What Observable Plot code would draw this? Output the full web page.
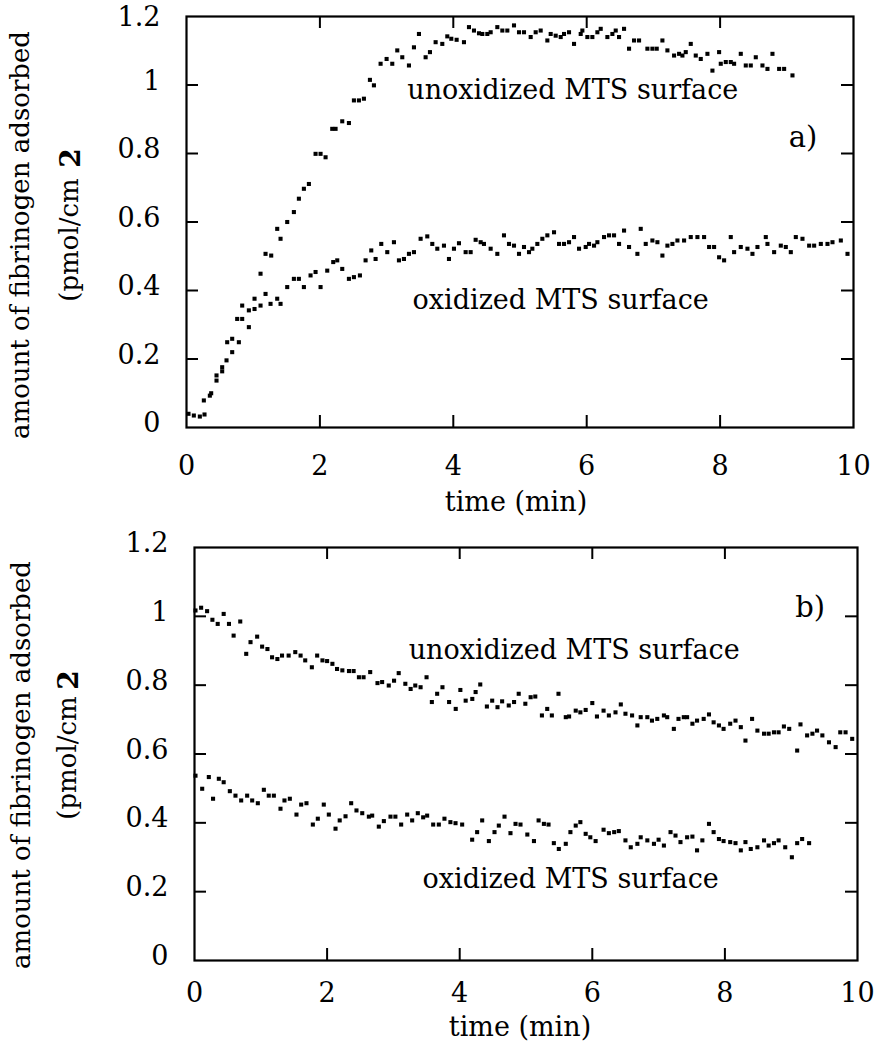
<!DOCTYPE html>
<html><head><meta charset="utf-8">
<script src="https://cdn.jsdelivr.net/npm/d3@7"></script>
<script src="https://cdn.jsdelivr.net/npm/@observablehq/plot@0.6"></script>
<style>
html,body{margin:0;padding:0;background:#fff;}
#chart{position:relative;width:874px;height:1050px;overflow:hidden;}
#chart svg{display:block;}
</style></head><body><div id="chart"></div>
<script>
const xTicks = [0, 2, 4, 6, 8, 10];
const yTicks = [0, 0.2, 0.4, 0.6, 0.8, 1, 1.2];
const yLabel = "amount of fibrinogen adsorbed";
const yUnit = "(pmol/cm";
const yUnitSup = "2";
const xLabel = "time (min)";
const seriesNames = ["unoxidized MTS surface", "oxidized MTS surface"];
const panelTags = ["a)", "b)"];

// panel a) — [time (min), amount (pmol/cm2)]
const aUnox = [[0.03,0.04],[0.2,0.032],[0.26,0.079],[0.37,0.10],[0.45,0.152],[0.535,0.176],[0.61,0.249],[0.685,0.259],[0.76,0.317],[0.835,0.356],[0.935,0.342],[1.02,0.376],[1.11,0.449],[1.185,0.507],[1.27,0.502],[1.36,0.58],[1.41,0.551],[1.51,0.6],[1.61,0.629],[1.685,0.668],[1.76,0.697],[1.835,0.711],[1.935,0.799],[2.01,0.799],[2.085,0.789],[2.185,0.872],[2.235,0.872],[2.335,0.894],[2.435,0.889],[2.51,0.955],[2.585,0.955],[2.66,0.96],[2.75,1.015],[2.81,0.999],[2.91,1.062],[3.0,1.076],[3.085,1.062],[3.16,1.101],[3.235,1.081],[3.335,1.057],[3.41,1.11],[3.485,1.149],[3.585,1.081],[3.65,1.096],[3.735,1.125],[3.835,1.12],[3.91,1.142],[3.97,1.135],[4.05,1.132],[4.16,1.125],[4.235,1.169],[4.31,1.159],[4.385,1.151],[4.435,1.149],[4.51,1.149],[4.56,1.154],[4.66,1.169],[4.735,1.159],[4.81,1.159],[4.91,1.174],[4.985,1.154],[5.06,1.154],[5.16,1.14],[5.235,1.154],[5.31,1.159],[5.41,1.13],[5.46,1.149],[5.535,1.144],[5.61,1.14],[5.66,1.149],[5.735,1.154],[5.81,1.12],[5.91,1.149],[5.935,1.159],[6.01,1.14],[6.085,1.14],[6.16,1.154],[6.21,1.164],[6.31,1.14],[6.385,1.149],[6.435,1.159],[6.485,1.14],[6.56,1.164],[6.635,1.106],[6.71,1.13],[6.785,1.13],[6.91,1.106],[6.985,1.106],[7.05,1.106],[7.135,1.13],[7.21,1.101],[7.31,1.086],[7.385,1.091],[7.435,1.086],[7.485,1.096],[7.56,1.12],[7.635,1.086],[7.71,1.076],[7.81,1.091],[7.885,1.042],[7.985,1.096],[8.01,1.062],[8.085,1.067],[8.16,1.067],[8.21,1.062],[8.31,1.091],[8.385,1.057],[8.46,1.057],[8.535,1.081],[8.635,1.057],[8.71,1.047],[8.785,1.091],[8.885,1.047],[8.96,1.047],[9.085,1.028]];
const aOx = [[0.11,0.035],[0.27,0.038],[0.35,0.093],[0.45,0.137],[0.535,0.164],[0.6,0.196],[0.685,0.22],[0.785,0.249],[0.835,0.317],[0.935,0.293],[1.02,0.346],[1.11,0.356],[1.185,0.39],[1.26,0.361],[1.36,0.376],[1.41,0.361],[1.51,0.41],[1.61,0.434],[1.685,0.434],[1.76,0.41],[1.86,0.444],[1.935,0.454],[2.01,0.41],[2.11,0.458],[2.2,0.483],[2.26,0.488],[2.335,0.463],[2.435,0.434],[2.51,0.439],[2.6,0.444],[2.685,0.488],[2.77,0.517],[2.835,0.492],[2.92,0.536],[3.01,0.512],[3.11,0.541],[3.185,0.488],[3.26,0.492],[3.335,0.507],[3.41,0.512],[3.51,0.551],[3.61,0.558],[3.685,0.536],[3.76,0.522],[3.86,0.531],[3.935,0.492],[4.01,0.522],[4.085,0.538],[4.185,0.512],[4.26,0.512],[4.335,0.548],[4.41,0.541],[4.46,0.536],[4.56,0.522],[4.66,0.507],[4.76,0.561],[4.835,0.536],[4.91,0.531],[4.985,0.507],[5.06,0.527],[5.135,0.512],[5.185,0.522],[5.26,0.536],[5.335,0.551],[5.41,0.561],[5.51,0.57],[5.585,0.536],[5.66,0.536],[5.735,0.541],[5.81,0.556],[5.885,0.522],[5.985,0.527],[6.035,0.536],[6.11,0.531],[6.16,0.541],[6.26,0.556],[6.335,0.561],[6.41,0.561],[6.485,0.536],[6.56,0.575],[6.635,0.527],[6.76,0.507],[6.81,0.58],[6.885,0.536],[6.985,0.546],[7.06,0.541],[7.135,0.502],[7.21,0.531],[7.285,0.536],[7.36,0.546],[7.46,0.546],[7.56,0.556],[7.66,0.556],[7.76,0.556],[7.835,0.527],[7.91,0.527],[7.985,0.497],[8.06,0.488],[8.16,0.556],[8.21,0.512],[8.31,0.527],[8.41,0.522],[8.485,0.507],[8.56,0.527],[8.685,0.556],[8.71,0.536],[8.81,0.512],[8.91,0.531],[8.985,0.527],[9.06,0.512],[9.135,0.556],[9.235,0.551],[9.335,0.531],[9.41,0.531],[9.51,0.536],[9.61,0.536],[9.685,0.541],[9.81,0.546],[9.91,0.507]];

// panel b)
const bUnox = [[0.015,1.017],[0.10,1.025],[0.19,1.015],[0.27,0.99],[0.35,0.978],[0.44,1.007],[0.52,0.978],[0.59,0.944],[0.69,0.985],[0.78,0.891],[0.845,0.925],[0.945,0.941],[1.02,0.912],[1.10,0.905],[1.17,0.881],[1.25,0.876],[1.32,0.886],[1.42,0.886],[1.52,0.896],[1.60,0.886],[1.67,0.872],[1.77,0.852],[1.85,0.886],[1.93,0.872],[2.0,0.87],[2.08,0.862],[2.15,0.847],[2.23,0.843],[2.33,0.841],[2.40,0.841],[2.48,0.823],[2.55,0.823],[2.65,0.838],[2.76,0.806],[2.83,0.809],[2.93,0.799],[3.01,0.813],[3.08,0.835],[3.18,0.804],[3.26,0.789],[3.33,0.799],[3.41,0.794],[3.50,0.823],[3.58,0.751],[3.66,0.775],[3.74,0.794],[3.84,0.751],[3.94,0.731],[4.01,0.786],[4.09,0.755],[4.19,0.76],[4.24,0.78],[4.31,0.802],[4.41,0.738],[4.49,0.755],[4.57,0.736],[4.64,0.753],[4.74,0.741],[4.82,0.751],[4.89,0.775],[4.99,0.746],[5.07,0.765],[5.14,0.767],[5.24,0.712],[5.32,0.731],[5.39,0.712],[5.49,0.775],[5.60,0.707],[5.65,0.709],[5.75,0.726],[5.82,0.721],[5.90,0.728],[6.0,0.748],[6.07,0.709],[6.17,0.726],[6.25,0.712],[6.35,0.721],[6.43,0.744],[6.50,0.717],[6.60,0.712],[6.68,0.683],[6.73,0.707],[6.83,0.707],[6.90,0.697],[6.98,0.702],[7.08,0.712],[7.13,0.707],[7.23,0.673],[7.30,0.702],[7.38,0.707],[7.43,0.707],[7.51,0.688],[7.58,0.697],[7.68,0.702],[7.76,0.715],[7.83,0.692],[7.91,0.683],[7.98,0.673],[8.08,0.688],[8.16,0.697],[8.24,0.678],[8.31,0.639],[8.41,0.702],[8.49,0.668],[8.59,0.659],[8.66,0.659],[8.74,0.663],[8.81,0.663],[8.89,0.68],[8.97,0.673],[9.09,0.61],[9.14,0.686],[9.24,0.654],[9.32,0.659],[9.39,0.668],[9.47,0.654],[9.57,0.634],[9.67,0.62],[9.74,0.663],[9.82,0.663],[9.92,0.644]];
const bOx = [[0.015,0.537],[0.116,0.499],[0.216,0.533],[0.28,0.47],[0.367,0.528],[0.44,0.518],[0.533,0.492],[0.618,0.479],[0.704,0.465],[0.794,0.479],[0.87,0.465],[0.955,0.457],[1.046,0.496],[1.12,0.479],[1.197,0.479],[1.297,0.441],[1.357,0.465],[1.438,0.47],[1.538,0.424],[1.609,0.453],[1.689,0.457],[1.785,0.395],[1.86,0.412],[1.95,0.453],[2.026,0.424],[2.127,0.383],[2.19,0.407],[2.278,0.419],[2.363,0.457],[2.443,0.436],[2.53,0.428],[2.63,0.418],[2.68,0.421],[2.78,0.389],[2.856,0.405],[2.956,0.418],[3.03,0.418],[3.117,0.395],[3.208,0.424],[3.283,0.407],[3.368,0.428],[3.449,0.416],[3.509,0.421],[3.6,0.395],[3.685,0.395],[3.77,0.412],[3.86,0.402],[3.937,0.399],[4.037,0.395],[4.188,0.351],[4.263,0.373],[4.339,0.407],[4.44,0.347],[4.525,0.373],[4.59,0.392],[4.676,0.418],[4.766,0.37],[4.842,0.397],[4.917,0.395],[5.02,0.366],[5.12,0.347],[5.19,0.407],[5.27,0.397],[5.34,0.395],[5.42,0.341],[5.495,0.324],[5.60,0.339],[5.67,0.373],[5.75,0.392],[5.82,0.402],[5.90,0.368],[5.97,0.358],[6.05,0.347],[6.17,0.38],[6.25,0.37],[6.33,0.373],[6.40,0.376],[6.50,0.349],[6.58,0.329],[6.68,0.339],[6.73,0.358],[6.83,0.349],[6.93,0.339],[7.0,0.351],[7.08,0.334],[7.18,0.373],[7.255,0.363],[7.33,0.344],[7.43,0.358],[7.51,0.36],[7.58,0.32],[7.66,0.349],[7.76,0.397],[7.83,0.373],[7.91,0.353],[7.98,0.347],[8.08,0.344],[8.16,0.341],[8.24,0.32],[8.31,0.344],[8.39,0.324],[8.49,0.329],[8.59,0.349],[8.66,0.334],[8.74,0.341],[8.81,0.349],[8.91,0.329],[9.01,0.30],[9.09,0.341],[9.165,0.353],[9.27,0.341]];

const FONT = "'DejaVu Serif', serif";
const W = 874;

function panel(cfg) {
  const {unox, ox, tag, h, m, xPad, topDy, labels, yl, xl} = cfg;
  const innerW = W - m.left - m.right, innerH = h - m.top - m.bottom;
  const tx = 12 * 10 / innerW, ty = 12 * 1.2 / innerH;
  const innerY = yTicks.slice(1, -1), innerX = xTicks.slice(1, -1);
  const pts = [...unox, ...ox].map(([t, v]) => ({t, v}));
  const ann = [
    {label: seriesNames[0], size: 27, ...labels[0]},
    {label: seriesNames[1], size: 27, ...labels[1]},
    {label: tag, size: 29, ...labels[2]}
  ];
  const ink = {stroke: "#000", strokeWidth: 2};
  const rot = {frameAnchor: "left", rotate: -90, textAnchor: "middle", lineAnchor: "middle", fontFamily: FONT};
  const yAx = {tickSize: 0, tickPadding: 26, tickFormat: d => String(d), label: null, fontSize: 27, fontFamily: FONT};
  return Plot.plot({
    width: W, height: h,
    marginTop: m.top, marginBottom: m.bottom, marginLeft: m.left, marginRight: m.right,
    x: {domain: [0, 10], label: null},
    y: {domain: [0, 1.2], label: null},
    style: {fontFamily: FONT, fontSize: "27px", color: "#000", background: "#fff", overflow: "visible"},
    marks: [
      Plot.ruleY(innerY, {x1: 0, x2: tx, ...ink}),
      Plot.ruleY(innerY, {x1: 10 - tx, x2: 10, ...ink}),
      Plot.ruleX(innerX, {y1: 0, y2: ty, ...ink}),
      Plot.ruleX(innerX, {y1: 1.2 - ty, y2: 1.2, ...ink}),
      Plot.frame({stroke: "#000", strokeWidth: 2.2}),
      Plot.axisX({ticks: xTicks, tickSize: 0, tickPadding: xPad, tickFormat: d => String(d), label: null, fontSize: 27, fontFamily: FONT}),
      Plot.axisY({ticks: yTicks.slice(0, -1), dy: -4, ...yAx}),
      Plot.axisY({ticks: yTicks.slice(-1), dy: topDy, ...yAx}),
      Plot.dot(pts, {x: "t", y: "v", symbol: "square", r: 2.3, fill: "#000"}),
      Plot.text(ann, {x: "t", y: "v", text: "label", fontSize: "size", textAnchor: "start", lineAnchor: "bottom", fontFamily: FONT}),
      Plot.text([yLabel], {...rot, dx: yl.dx, dy: yl.dy, fontSize: 26}),
      Plot.text([yUnit], {...rot, dx: yl.ux, dy: yl.uy, fontSize: 26}),
      Plot.text([yUnitSup], {...rot, dx: yl.sx, dy: yl.sy, fontSize: 28, fontWeight: "bold"}),
      Plot.text([xLabel], {frameAnchor: "bottom", textAnchor: "middle", lineAnchor: "bottom", dx: xl.dx, dy: xl.dy, fontSize: 27, fontFamily: FONT})
    ]
  });
}

const root = document.getElementById("chart");
root.appendChild(panel({
  unox: aUnox, ox: aOx, tag: panelTags[0], h: 520,
  m: {top: 16, bottom: 93, left: 186, right: 21}, xPad: 28, topDy: 1,
  labels: [{t: 3.31, v: 0.96}, {t: 3.39, v: 0.347}, {t: 9.03, v: 0.818}],
  yl: {dx: -166, dy: 13, ux: -117, uy: 18, sx: -115, sy: -64},
  xl: {dx: -4, dy: 83}
}));
root.appendChild(panel({
  unox: bUnox, ox: bOx, tag: panelTags[1], h: 530,
  m: {top: 27, bottom: 90, left: 194, right: 17}, xPad: 22, topDy: -4,
  labels: [{t: 3.23, v: 0.877}, {t: 3.44, v: 0.212}, {t: 9.06, v: 0.997}],
  yl: {dx: -173, dy: 11, ux: -127, uy: 4, sx: -125, sy: -74},
  xl: {dx: -6, dy: 75}
}));
</script>
</body></html>
